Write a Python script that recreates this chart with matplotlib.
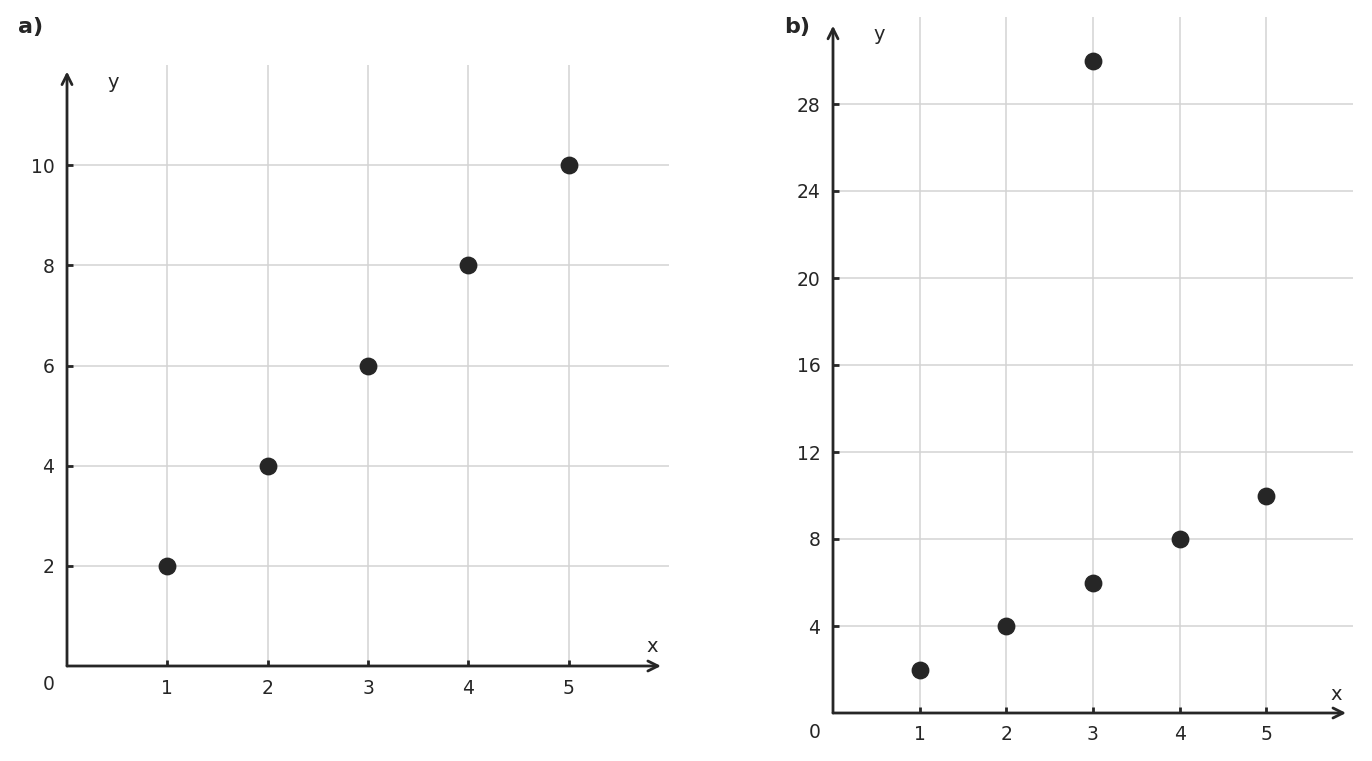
import matplotlib

matplotlib.use("Agg")

import matplotlib.pyplot as plt

x_a = [1, 2, 3, 4, 5]
y_a = [2, 4, 6, 8, 10]
x_b = [1, 2, 3, 4, 5, 3]
y_b = [2, 4, 6, 8, 10, 30]

xticks = [1, 2, 3, 4, 5]
yticks_a = [2, 4, 6, 8, 10]
yticks_b = [4, 8, 12, 16, 20, 24, 28]

DARK = "#262626"
GRID = "#d3d3d3"

fig = plt.figure(figsize=(13.72, 7.61), dpi=100)
ax_a = fig.add_axes([67 / 1372, 95 / 761, 602 / 1372, 601 / 761])
ax_b = fig.add_axes([833 / 1372, 48 / 761, 520 / 1372, 696 / 761])


def style(ax, xs, ys, yticks, ymax, arrow_y):
    ax.set_xlim(0, 6)
    ax.set_ylim(0, ymax)
    ax.set_xticks(xticks)
    ax.set_yticks(yticks)
    ax.grid(True, color=GRID, lw=1.1)
    ax.set_axisbelow(True)
    for s in ax.spines.values():
        s.set_visible(False)
    ax.tick_params(direction="in", length=4, width=2, color=DARK,
                   labelsize=13.5, labelcolor=DARK, pad=9)

    ax.scatter(xs, ys, s=140, color=DARK, zorder=3, clip_on=False)

    ax.annotate("", xy=(0, arrow_y), xytext=(0, 0),
                arrowprops=dict(arrowstyle="->", lw=2, color=DARK,
                                shrinkA=0, shrinkB=0, mutation_scale=18),
                annotation_clip=False)
    ax.annotate("", xy=(5.92, 0), xytext=(0, 0),
                arrowprops=dict(arrowstyle="->", lw=2, color=DARK,
                                shrinkA=0, shrinkB=0, mutation_scale=18),
                annotation_clip=False)

    ax.annotate("0", xy=(0, 0), xytext=(-18, -19), textcoords="offset pixels",
                ha="center", va="center", fontsize=13.5, color=DARK,
                annotation_clip=False)
    ax.annotate("x", xy=(1, 0), xycoords="axes fraction", xytext=(-17, 19),
                textcoords="offset pixels", ha="center", va="center",
                fontsize=14, color=DARK, annotation_clip=False)
    ax.annotate("y", xy=(0, 1), xycoords="axes fraction", xytext=(46, -17),
                textcoords="offset pixels", ha="center", va="center",
                fontsize=14, color=DARK, annotation_clip=False)


style(ax_a, x_a, y_a, yticks_a, 12, 11.87)
style(ax_b, x_b, y_b, yticks_b, 32, 31.6)

fig.text(31 / 1372, 1 - 27 / 761, "a)", fontsize=16, fontweight="bold",
         color=DARK, ha="center", va="center")
fig.text(797 / 1372, 1 - 27 / 761, "b)", fontsize=16, fontweight="bold",
         color=DARK, ha="center", va="center")

fig.savefig("out.png", dpi=100)
